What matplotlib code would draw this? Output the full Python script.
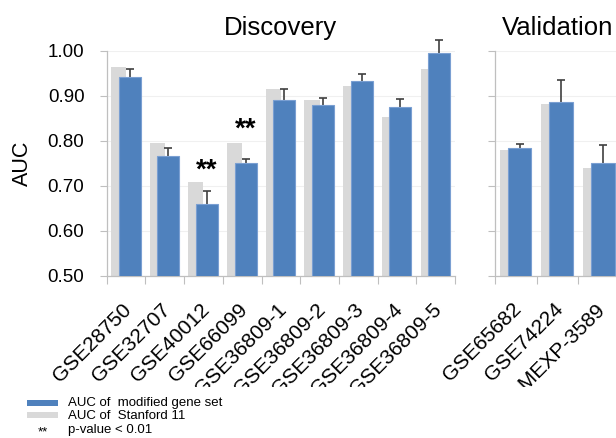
import numpy as np
import matplotlib
matplotlib.use("Agg")
import matplotlib.pyplot as plt
from matplotlib.patches import Rectangle
import matplotlib.transforms as mtransforms

plt.rcParams['font.family'] = ['Liberation Sans', 'DejaVu Sans']

# ---- data ----
datasets_disc = ['GSE28750', 'GSE32707', 'GSE40012', 'GSE66099', 'GSE36809-1',
                 'GSE36809-2', 'GSE36809-3', 'GSE36809-4', 'GSE36809-5']
stanford_disc = [0.964, 0.796, 0.709, 0.795, 0.914, 0.890, 0.922, 0.852, 0.959]
modified_disc = [0.942, 0.767, 0.659, 0.750, 0.890, 0.880, 0.933, 0.876, 0.994]
err_disc = [0.017, 0.016, 0.030, 0.010, 0.024, 0.016, 0.015, 0.017, 0.030]
sig_disc = ['', '', '**', '**', '', '', '', '', '']

datasets_val = ['GSE65682', 'GSE74224', 'E-MEXP-3589']
stanford_val = [0.779, 0.882, 0.740]
modified_val = [0.784, 0.887, 0.750]
err_val = [0.009, 0.049, 0.041]
sig_val = ['', '', '']

yticks = [0.50, 0.60, 0.70, 0.80, 0.90, 1.00]

BLUE = '#4F81BD'
BLUE_EDGE = '#7A9FD2'
GRAY = '#D9D9D9'
SPINE = '#BFBFBF'
ERR = '#3F3F3F'

W, H = 616, 438
fig = plt.figure(figsize=(W / 100, H / 100), dpi=100)

ax1 = fig.add_axes([106.7 / W, (H - 276) / H, 348.3 / W, 225.3 / H])
ax2 = fig.add_axes([495 / W, (H - 276) / H, 125 / W, 225.3 / H])


def draw(ax, names, gray, blue, err, sig, title, show_ylabels):
    n = len(names)
    x = np.arange(n)
    ax.bar(x - 0.39, gray, width=0.39, align='edge', color=GRAY,
           edgecolor='none', zorder=2)
    ax.errorbar(x + 0.09, blue, yerr=err, fmt='none',
                ecolor=ERR, elinewidth=1.2, capsize=3.2, capthick=1.2,
                zorder=2.5, clip_on=False)
    ax.bar(x - 0.195, blue, width=0.57, align='edge', color=BLUE,
           edgecolor=BLUE_EDGE, linewidth=0.8, zorder=3)
    for xi, b, s in zip(x, blue, sig):
        if s:
            ax.text(xi + 0.09, b + 0.075, s, ha='center', va='center',
                    fontsize=20, fontweight='bold', zorder=5)
    ax.set_ylim(0.5, 1.0)
    ax.set_xlim(-0.5, n - 0.5)
    ax.set_yticks(yticks)
    if show_ylabels:
        ax.set_yticklabels([f'{t:.2f}' for t in yticks], fontsize=13.5)
    else:
        ax.set_yticklabels([])
    ax.tick_params(axis='y', length=5, width=0.8, color=SPINE, pad=11)
    ax.set_xticks(x)
    ax.set_xticklabels(names, rotation=45, ha='right', va='top',
                       rotation_mode='anchor', fontsize=15)
    ax.set_xticks(np.arange(-0.5, n + 0.5, 1.0), minor=True)
    ax.tick_params(axis='x', which='major', length=0, pad=17)
    ax.tick_params(axis='x', which='minor', length=6, width=0.8, color=SPINE,
                   direction='out')
    offset = mtransforms.ScaledTranslation(-0.04, 0, fig.dpi_scale_trans)
    for lab in ax.get_xticklabels():
        lab.set_transform(lab.get_transform() + offset)
    for sp in ['top', 'right']:
        ax.spines[sp].set_visible(False)
    for sp in ['left', 'bottom']:
        ax.spines[sp].set_color(SPINE)
        ax.spines[sp].set_linewidth(0.9)
    ax.yaxis.grid(True, color='#F0F0F0', linewidth=0.8, zorder=0)
    ax.set_axisbelow(True)
    ax.set_title(title, fontsize=18.5, pad=11)


draw(ax1, datasets_disc, stanford_disc, modified_disc, err_disc, sig_disc,
     'Discovery', True)
draw(ax2, datasets_val, stanford_val, modified_val, err_val, sig_val,
     'Validation', False)

fig.text(22 / W, 1 - 163.3 / H, 'AUC', rotation=90, ha='center',
         va='center', fontsize=15.5)

# white band at the bottom (the long tick labels are cut off there)
fig.add_artist(Rectangle((0, 0), 1, (H - 387) / H, transform=fig.transFigure,
                         color='white', lw=0, zorder=10))

# legend
fig.add_artist(Rectangle((26.7 / W, 1 - 406 / H), 31.6 / W, 6 / H,
                         transform=fig.transFigure, color=BLUE, lw=0,
                         zorder=11))
fig.add_artist(Rectangle((26.7 / W, 1 - 418.3 / H), 31.6 / W, 6 / H,
                         transform=fig.transFigure, color=GRAY, lw=0,
                         zorder=11))
fig.text(68.3 / W, 1 - 403.3 / H, 'AUC of  modified gene set', ha='left',
         va='center', fontsize=9.5, zorder=11)
fig.text(68.3 / W, 1 - 415.6 / H, 'AUC of  Stanford 11', ha='left',
         va='center', fontsize=9.5, zorder=11)
fig.text(42.5 / W, 1 - 432 / H, '**', ha='center', va='center',
         fontsize=9.5, zorder=11)
fig.text(68.3 / W, 1 - 429.8 / H, 'p-value < 0.01', ha='left',
         va='center', fontsize=9.5, zorder=11)

fig.savefig('out.png', dpi=100)
